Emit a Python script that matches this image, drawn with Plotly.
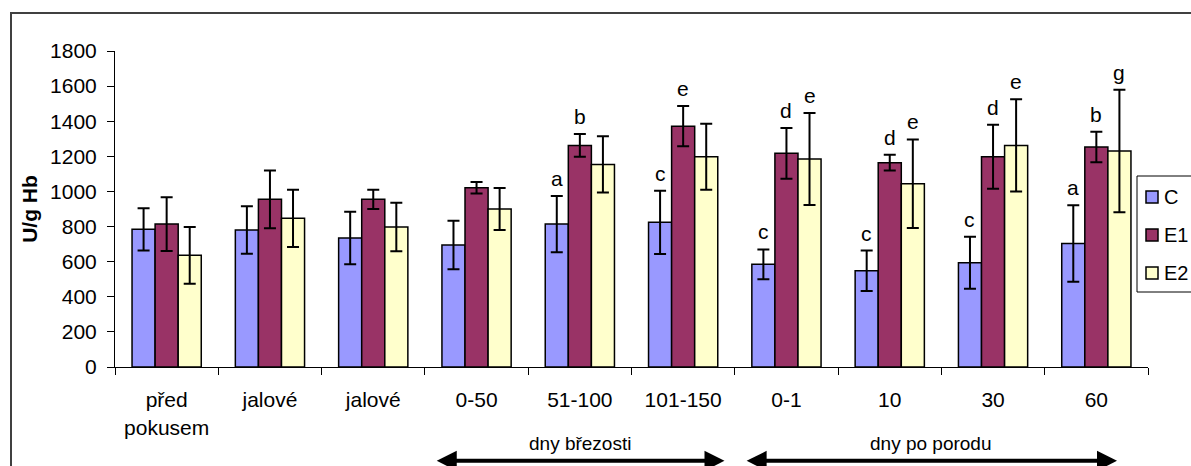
import plotly.graph_objects as go

categories = ["před<br>pokusem", "jalové", "jalové", "0-50", "51-100", "101-150",
              "0-1", "10", "30", "60"]
series = ["C", "E1", "E2"]
c_vals = [784, 780, 735, 695, 814, 824, 585, 548, 594, 704]
c_err = [120, 135, 150, 138, 160, 180, 85, 115, 148, 218]
e1_vals = [814, 955, 955, 1021, 1262, 1372, 1217, 1164, 1198, 1253]
e1_err = [153, 165, 55, 33, 65, 115, 145, 45, 182, 87]
e2_vals = [636, 847, 797, 900, 1154, 1198, 1185, 1044, 1262, 1230]
e2_err = [162, 163, 138, 120, 160, 188, 262, 252, 263, 349]
c_letters = ["", "", "", "", "a", "c", "c", "c", "c", "a"]
e1_letters = ["", "", "", "", "b", "e", "d", "d", "d", "b"]
e2_letters = ["", "", "", "", "", "", "e", "e", "e", "g"]
group_labels = ["dny březosti", "dny po porodu"]
group_spans = [(2.6, 5.4), (5.6, 9.2)]

colors = ["#9999FF", "#993366", "#FFFFCC"]
FONT = "Liberation Sans, Arial, sans-serif"
FS = 21
W, H = 1191, 466
ML, MR, MT, MB = 115, 43, 51, 99
PW, PH = W - ML - MR, H - MT - MB


def px_x(p):
    return (p - ML) / PW


def px_y(p):
    return (H - MB - p) / PH


x = list(range(len(categories)))
bargap = 0.33
w = (1 - bargap) / 3

fig = go.Figure()
for name, vals, errs, col in zip(series, [c_vals, e1_vals, e2_vals],
                                 [c_err, e1_err, e2_err], colors):
    fig.add_trace(go.Bar(
        x=x, y=vals, name=name, showlegend=False,
        marker=dict(color=col, line=dict(color="black", width=1.5)),
        error_y=dict(type="data", array=errs, visible=True, color="black",
                     thickness=2, width=6),
    ))

annotations = []
for k, (vals, errs, letters) in enumerate(zip([c_vals, e1_vals, e2_vals],
                                              [c_err, e1_err, e2_err],
                                              [c_letters, e1_letters, e2_letters])):
    off = (k - 1) * w
    for i, (v, e, l) in enumerate(zip(vals, errs, letters)):
        if l:
            annotations.append(dict(x=i + off, y=v + e, xref="x", yref="y", text=l,
                                    showarrow=False, yanchor="bottom", yshift=4,
                                    font=dict(family=FONT, size=FS, color="black")))

for label, (a, b) in zip(group_labels, group_spans):
    annotations.append(dict(x=(a + b) / 2, y=-0.243, xref="x", yref="paper", text=label,
                            showarrow=False, yanchor="middle",
                            font=dict(family=FONT, size=19, color="black")))
    annotations.append(dict(x=b, y=-0.297, xref="x", yref="paper", ax=a, ay=0,
                            axref="x", ayref="pixel", text="", showarrow=True,
                            arrowhead=2, startarrowhead=2, arrowside="end+start",
                            arrowsize=1, arrowwidth=4, arrowcolor="black"))

shapes = [dict(type="rect", xref="paper", yref="paper", x0=px_x(11), x1=px_x(1250),
               y0=px_y(560), y1=px_y(13), line=dict(color="#404040", width=2),
               layer="below")]

# legend box (custom, to match the reference's compact legend)
shapes.append(dict(type="rect", xref="paper", yref="paper", x0=px_x(1137), x1=px_x(1240),
                   y0=px_y(292), y1=px_y(176), line=dict(color="black", width=1),
                   fillcolor="white", layer="above"))
for name, col, yc in zip(series, colors, [197, 235, 273]):
    shapes.append(dict(type="rect", xref="paper", yref="paper",
                       x0=px_x(1146), x1=px_x(1158), y0=px_y(yc + 6), y1=px_y(yc - 6),
                       line=dict(color="black", width=1.5), fillcolor=col, layer="above"))
    annotations.append(dict(x=px_x(1162), y=px_y(yc), xref="paper", yref="paper",
                            text=name, showarrow=False, xanchor="left", yanchor="middle",
                            font=dict(family=FONT, size=20, color="black")))

fig.update_layout(
    width=W, height=H,
    margin=dict(l=ML, r=MR, t=MT, b=MB, autoexpand=False),
    paper_bgcolor="white", plot_bgcolor="white",
    barmode="group", bargap=bargap, bargroupgap=0,
    font=dict(family=FONT, size=FS, color="black"),
    showlegend=False,
    annotations=annotations,
    shapes=shapes,
)
fig.update_xaxes(
    range=[-0.5, 9.5], tickmode="array", tickvals=x, ticktext=categories,
    ticks="", showline=True, linecolor="black", linewidth=1, showgrid=False,
    zeroline=False, ticklabelstandoff=14,
    minor=dict(tickmode="array", tickvals=[i - 0.5 for i in range(len(categories) + 1)],
               ticks="outside", ticklen=7, tickcolor="black", showgrid=False),
)
fig.update_yaxes(
    range=[0, 1800], dtick=200, ticks="outside", ticklen=7, tickcolor="black",
    showline=True, linecolor="black", linewidth=1, showgrid=False, zeroline=False,
    ticklabelstandoff=6,
    title=dict(text="<b>U/g Hb</b>", standoff=6, font=dict(family=FONT, size=FS)),
)
fig.write_html("out.html")
